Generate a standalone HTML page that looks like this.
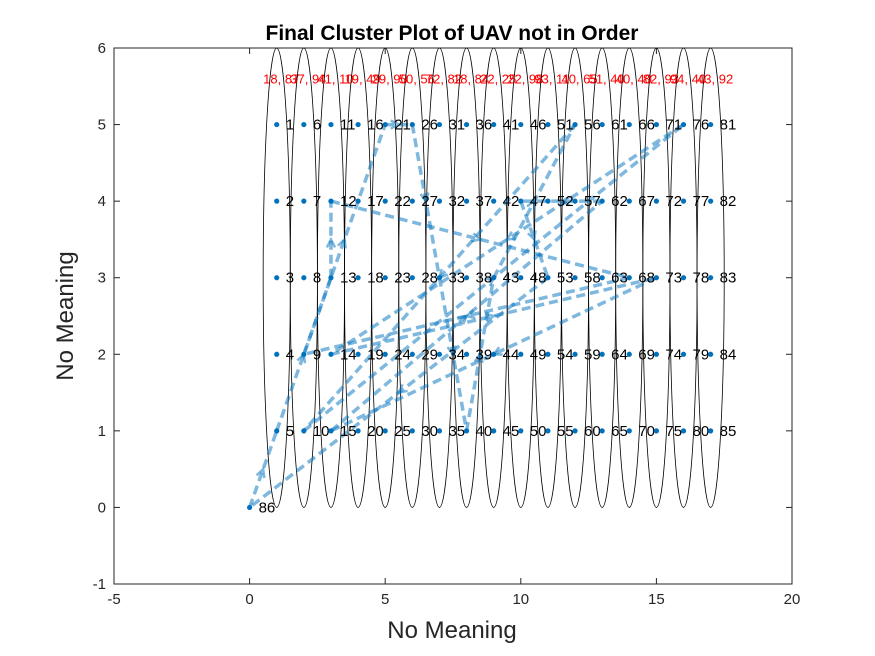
<!DOCTYPE html>
<html><head><meta charset="utf-8"><style>
body{margin:0;background:#fff;}
svg{display:block;font-family:"Liberation Sans",sans-serif;}
</style></head><body>
<svg id="chart" width="875" height="656" xmlns="http://www.w3.org/2000/svg">
<rect width="875" height="656" fill="#fff"/>
<text x="452" y="40" text-anchor="middle" font-size="21" font-weight="bold" fill="#000">Final Cluster Plot of UAV not in Order</text>
<text x="452" y="638" text-anchor="middle" font-size="24" fill="#262626">No Meaning</text>
<text x="0" y="0" transform="translate(73,316) rotate(-90)" text-anchor="middle" font-size="24" fill="#262626">No Meaning</text>
<g id="plot"></g>
</svg>
<script>
const xTicks=[-5,0,5,10,15,20];
const yTicks=[-1,0,1,2,3,4,5,6];
const clusterCenters=[1,2,3,4,5,6,7,8,9,10,11,12,13,14,15,16,17];
const clusterLabels=["18, 87","37, 94","41, 10","19, 49","29, 90","50, 56","72, 82","18, 84","22, 25","22, 98","93, 11","40, 65","51, 40","40, 40","82, 93","94, 40","43, 92"];
const route=[86,5,13,12,68,9,21,26,33,40,43,56,10,76,14,73,15,62,47,53,86];
const X0=114,X1=792,Y0=584,Y1=48;
const sx=v=>X0+(v+5)/25*(X1-X0);
const sy=v=>Y0-(v+1)/7*(Y0-Y1);
const NS="http://www.w3.org/2000/svg";
const plot=document.getElementById('plot');
function mk(tag,attrs,parent){const e=document.createElementNS(NS,tag);for(const k in attrs)e.setAttribute(k,attrs[k]);(parent||plot).appendChild(e);return e;}
function pt(n){if(n===86)return[0,0];return[Math.floor((n-1)/5)+1,5-((n-1)%5)];}
let box=mk('rect',{x:X0,y:Y1,width:X1-X0,height:Y0-Y1,fill:'none',stroke:'#262626','stroke-width':1});


xTicks.forEach(t=>{
  let l=mk('line',{x1:sx(t),x2:sx(t),y1:Y0,y2:Y0-6,stroke:'#262626'});
  
  
  let l2=mk('line',{x1:sx(t),x2:sx(t),y1:Y1,y2:Y1+6,stroke:'#262626'});
  
  
  let tx=mk('text',{x:sx(t),y:Y0+20,'text-anchor':'middle','font-size':15,fill:'#262626'});tx.textContent=t;
  
  
});
yTicks.forEach(t=>{
  let l=mk('line',{x1:X0,x2:X0+6,y1:sy(t),y2:sy(t),stroke:'#262626'});
  
  
  let l2=mk('line',{x1:X1,x2:X1-6,y1:sy(t),y2:sy(t),stroke:'#262626'});
  
  
  let tx=mk('text',{x:X0-8,y:sy(t)+5,'text-anchor':'end','font-size':15,fill:'#262626'});tx.textContent=t;
  
  
});
const clip=mk('clipPath',{id:'pc'});mk('rect',{x:X0,y:Y1,width:X1-X0,height:Y0-Y1},clip);
const g=mk('g',{'clip-path':'url(#pc)'});
clusterCenters.forEach((c,i)=>{
  let e=mk('ellipse',{cx:sx(c),cy:sy(3),rx:sx(0.5)-sx(0),ry:sy(0)-sy(3),fill:'none',stroke:'#000','stroke-width':0.8},g);
  
  
  let t=mk('text',{x:sx(c-0.5),y:sy(5.6)+5,'font-size':13,fill:'#ff0000'},g);t.textContent=clusterLabels[i];
  
  
});
for(let i=0;i<route.length-1;i++){
  const [ax,ay]=pt(route[i]),[bx,by]=pt(route[i+1]);
  const x1=sx(ax),y1=sy(ay),x2=sx(bx),y2=sy(by);
  let l=mk('line',{x1,y1,x2,y2,stroke:'#0072bd','stroke-opacity':0.5,'stroke-width':3.5,'stroke-dasharray':'9 5'},g);
  
  
  const mx=(x1+x2)/2,my=(y1+y2)/2,ang=Math.atan2(y2-y1,x2-x1);
  const a1=ang+Math.PI*0.85,a2=ang-Math.PI*0.85;
  let ar=mk('path',{d:`M${mx+9*Math.cos(a1)},${my+9*Math.sin(a1)} L${mx},${my} L${mx+9*Math.cos(a2)},${my+9*Math.sin(a2)}`,fill:'none',stroke:'#0072bd','stroke-opacity':0.5,'stroke-width':2.5},g);
  
  
}
for(let n=1;n<=86;n++){
  const [px,py]=pt(n);
  let c=mk('circle',{cx:sx(px),cy:sy(py),r:2.6,fill:'#0072bd'});
  
  
  let t=mk('text',{x:sx(px)+9,y:sy(py)+5,'font-size':15,fill:'#000'});t.textContent=n;
  
  
}
</script>
</body></html>
